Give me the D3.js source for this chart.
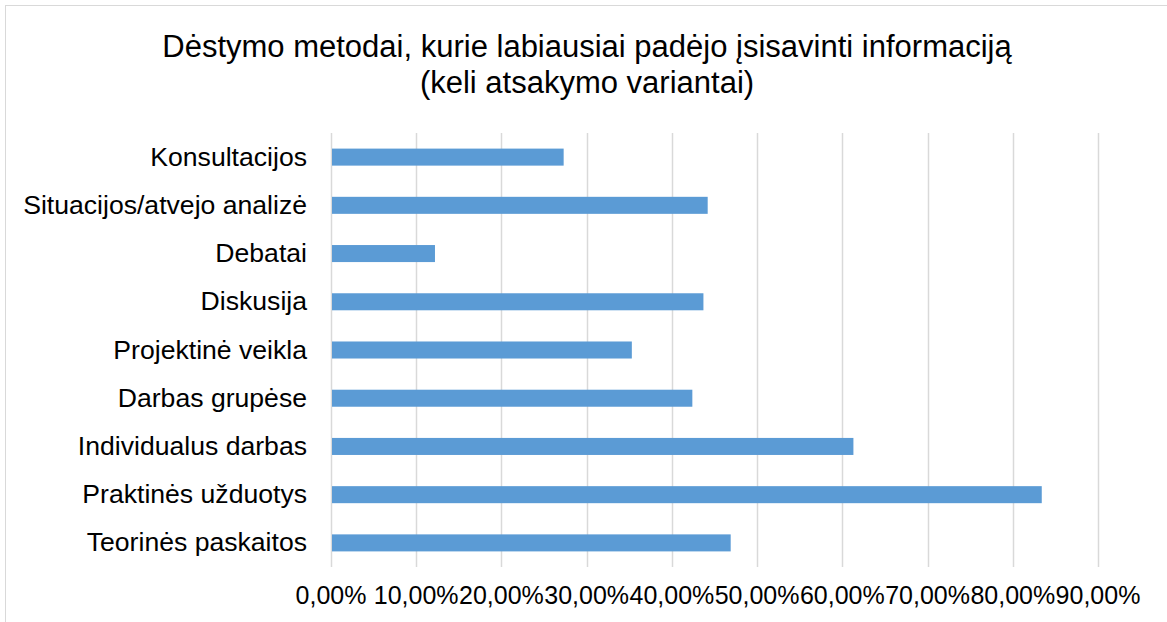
<!DOCTYPE html>
<html>
<head>
<meta charset="utf-8">
<script src="https://cdn.jsdelivr.net/npm/d3@7"></script>
<style>
  body { margin: 0; background: #fff; }
  svg { display: block; font-family: "Liberation Sans", Arial, sans-serif; }
</style>
</head>
<body>
<svg width="1167" height="622"></svg>
<script>
// chart data
const categories = [
    'Konsultacijos',
    'Situacijos/atvejo analizė',
    'Debatai',
    'Diskusija',
    'Projektinė veikla',
    'Darbas grupėse',
    'Individualus darbas',
    'Praktinės užduotys',
    'Teorinės paskaitos'
];
const values = [0.273, 0.442, 0.122, 0.437, 0.353, 0.424, 0.613, 0.834, 0.469];
const tickValues = [0, 0.1, 0.2, 0.3, 0.4, 0.5, 0.6, 0.7, 0.8, 0.9];
const titleLines = ['Dėstymo metodai, kurie labiausiai padėjo įsisavinti informaciją', '(keli atsakymo variantai)'];

const svg = d3.select('svg');

// chart frame
svg.append('rect')
    .attr('x', 5.5).attr('y', 5.5)
    .attr('width', 1170).attr('height', 630)
    .attr('fill', 'none')
    .attr('stroke', '#d9d9d9');

// title
svg.append('text')
    .attr('x', 587)
    .attr('text-anchor', 'middle')
    .attr('font-size', 31)
    .attr('fill', '#000')
    .selectAll('tspan')
    .data(titleLines)
    .join('tspan')
    .attr('x', 587)
    .attr('y', (d, i) => 57 + i * 36)
    .text(d => d);

const x = d3.scaleLinear().domain([0, 0.9]).range([331, 1098]);
const y = d3.scaleBand().domain(categories).range([133, 567])
    .paddingInner(0.647).paddingOuter(0.3235);

// gridlines
svg.append('g')
    .selectAll('line')
    .data(tickValues)
    .join('line')
    .attr('x1', d => Math.round(x(d)) + 0.5)
    .attr('x2', d => Math.round(x(d)) + 0.5)
    .attr('y1', 133)
    .attr('y2', 567)
    .attr('stroke', '#d9d9d9')
    .attr('stroke-width', 1.5);

// bars
svg.append('g')
    .selectAll('rect')
    .data(values)
    .join('rect')
    .attr('x', x(0) + 1)
    .attr('y', (d, i) => y(categories[i]))
    .attr('width', d => x(d) - x(0) - 1)
    .attr('height', y.bandwidth())
    .attr('fill', '#5b9bd5');

// category labels
svg.append('g')
    .selectAll('text')
    .data(categories)
    .join('text')
    .attr('x', 307)
    .attr('y', d => y(d) + y.bandwidth() / 2)
    .attr('dy', '0.32em')
    .attr('text-anchor', 'end')
    .attr('font-size', 26.6)
    .attr('fill', '#000')
    .text(d => d);

// value axis labels
const fmt = d => d3.format('.2f')(d * 100).replace('.', ',') + '%';
svg.append('g')
    .selectAll('text')
    .data(tickValues)
    .join('text')
    .attr('x', d => x(d))
    .attr('y', 604)
    .attr('text-anchor', 'middle')
    .attr('font-size', 25)
    .attr('fill', '#000')
    .text(fmt);
</script>
</body>
</html>
